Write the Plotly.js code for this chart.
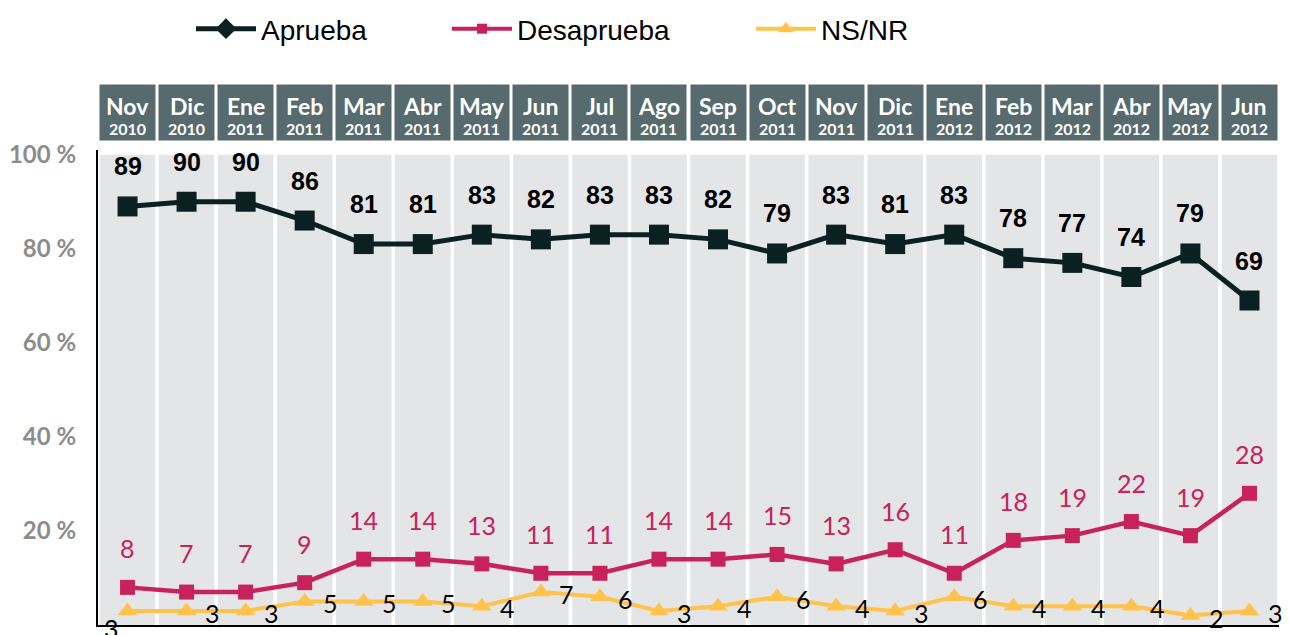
<!DOCTYPE html>
<html><head><meta charset="utf-8">
<script src="https://cdn.plot.ly/plotly-3.0.1.min.js"></script>
<style>html,body{margin:0;padding:0;background:#fff}#chart{width:1289px;height:635px}</style>
</head><body><div id="chart"></div>
<script>
const months = ['Nov','Dic','Ene','Feb','Mar','Abr','May','Jun','Jul','Ago','Sep','Oct','Nov','Dic','Ene','Feb','Mar','Abr','May','Jun'];
const years = ['2010','2010','2011','2011','2011','2011','2011','2011','2011','2011','2011','2011','2011','2011','2012','2012','2012','2012','2012','2012'];
const aprueba = [89,90,90,86,81,81,83,82,83,83,82,79,83,81,83,78,77,74,79,69];
const desaprueba = [8,7,7,9,14,14,13,11,11,14,14,15,13,16,11,18,19,22,19,28];
const nsnr = [3,3,3,5,5,5,4,7,6,3,4,6,4,3,6,4,4,4,2,3];
const yTicks = [0,20,40,60,80,100];
const yTickText = ['0 %','20 %','40 %','60 %','80 %','100 %'];
const seriesNames = ['Aprueba','Desaprueba','NS/NR'];

const categories = months.map((m,i)=>m+' '+years[i]);
const C_AP = '#0B2020', C_DE = '#C72259', C_NS = '#FFC34D';

const W = 1289, H = 635;
const ml = 98, mr = 10, mt = 150, mb = 10;
const plotH = H - mt - mb;
const py = p => (H - mb - p) / plotH;      // pixel y -> paper y
const px = p => (p - ml) / (W - ml - mr);  // pixel x -> paper x

const traces = [];
traces.push({type:'bar', x:categories, y:categories.map(()=>yTicks[yTicks.length-1]),
  marker:{color:'#E4E5E7'}, hoverinfo:'skip', showlegend:false});
traces.push({type:'scatter', mode:'lines+markers', x:categories, y:nsnr, name:seriesNames[2],
  line:{color:C_NS, width:4}, marker:{symbol:'triangle-up', size:17, color:C_NS}, showlegend:false, cliponaxis:false});
traces.push({type:'scatter', mode:'lines+markers', x:categories, y:desaprueba, name:seriesNames[1],
  line:{color:C_DE, width:4.5}, marker:{symbol:'square', size:15, color:C_DE}, showlegend:false, cliponaxis:false});
traces.push({type:'scatter', mode:'lines+markers', x:categories, y:aprueba, name:seriesNames[0],
  line:{color:C_AP, width:5}, marker:{symbol:'square', size:20, color:C_AP}, showlegend:false, cliponaxis:false});
traces.push({type:'scatter', mode:'lines+markers', x:[null], y:[null], name:seriesNames[0], legend:'legend',
  line:{color:C_AP, width:5}, marker:{symbol:'diamond', size:16, color:C_AP}});
traces.push({type:'scatter', mode:'lines+markers', x:[null], y:[null], name:seriesNames[1], legend:'legend2',
  line:{color:C_DE, width:4}, marker:{symbol:'square', size:10, color:C_DE}});
traces.push({type:'scatter', mode:'lines+markers', x:[null], y:[null], name:seriesNames[2], legend:'legend3',
  line:{color:C_NS, width:4}, marker:{symbol:'triangle-up', size:14, color:C_NS}});

const ann = [];
categories.forEach((c,i)=>{
  ann.push({xref:'x', yref:'paper', x:c, y:py(112.5), yanchor:'middle', text:' ', showarrow:false,
    width:55, height:55, bgcolor:'#576A6E', borderpad:0});
  ann.push({xref:'x', yref:'paper', x:c, y:py(106), yanchor:'middle', text:'<b>'+months[i]+'</b>', showarrow:false,
    font:{family:'Lato', size:23, color:'#fff'}});
  ann.push({xref:'x', yref:'paper', x:c, y:py(128.5), yanchor:'middle', text:'<b>'+years[i]+'</b>', showarrow:false,
    font:{family:'Lato', size:16, color:'#fff'}});
  ann.push({xref:'x', yref:'y', x:c, y:aprueba[i], text:'<b>'+aprueba[i]+'</b>', showarrow:false,
    yshift:40, font:{family:'Liberation Sans', size:25, color:'#000'}});
  ann.push({xref:'x', yref:'y', x:c, y:desaprueba[i], text:String(desaprueba[i]), showarrow:false,
    yshift:39, font:{family:'Lato', size:25, color:C_DE}});
  ann.push({xref:'x', yref:'y', x:c, y:nsnr[i], text:String(nsnr[i]), showarrow:false,
    xshift: i===0 ? -16 : 26, yshift: i===0 ? -17 : -2, font:{family:'Lato', size:25, color:'#000'}});
});

const legBase = {orientation:'h', yanchor:'middle', y:py(29), xanchor:'left', itemwidth:60,
  font:{family:'Liberation Sans', size:28, color:'#000'}, bgcolor:'rgba(0,0,0,0)'};

const layout = {
  width:W, height:H, margin:{l:ml, r:mr, t:mt, b:mb, autoexpand:false},
  paper_bgcolor:'#fff', plot_bgcolor:'#fff',
  bargap:0.06,
  xaxis:{type:'category', range:[-0.5, categories.length-0.5], showticklabels:false, showgrid:false,
    zeroline:false, showline:true, linecolor:'#000', linewidth:2, ticks:''},
  yaxis:{range:[0,101], tickvals:yTicks, ticktext:yTickText, showgrid:false, zeroline:false,
    showline:true, linecolor:'#000', linewidth:2, ticks:'', ticklabelstandoff:15,
    tickfont:{family:'Lato', size:24, color:'#8C8C8C', weight:'bold'}},
  legend: Object.assign({}, legBase, {x:px(191)}),
  legend2: Object.assign({}, legBase, {x:px(447)}),
  legend3: Object.assign({}, legBase, {x:px(751)}),
  annotations: ann,
  showlegend:true
};
Plotly.newPlot('chart', traces, layout, {staticPlot:true});
</script></body></html>
